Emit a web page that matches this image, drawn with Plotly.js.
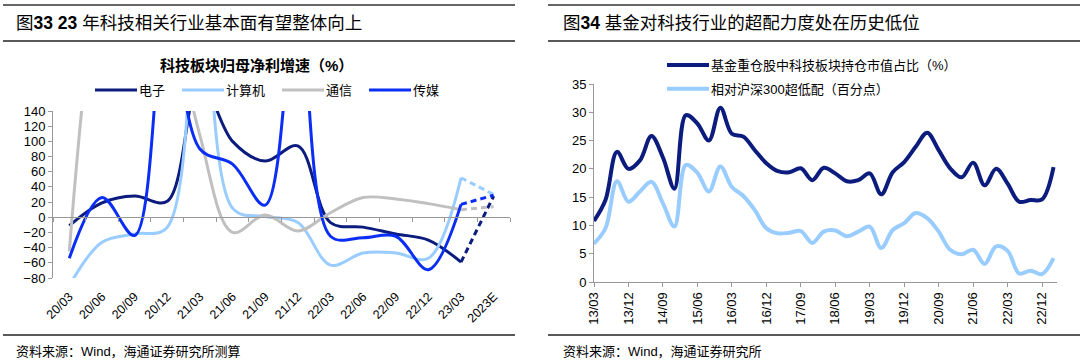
<!DOCTYPE html>
<html><head><meta charset="utf-8">
<script src="https://cdn.plot.ly/plotly-3.0.1.min.js"></script>
<style>html,body{margin:0;padding:0;background:#fff;}#chart{width:1080px;height:363px;}</style>
</head><body><div id="chart"></div>
<script>
// ---------- Left chart data (科技板块归母净利增速 %) ----------
const leftCats = ['20/03','20/06','20/09','20/12','21/03','21/06','21/09','21/12','22/03','22/06','22/09','22/12','23/03','2023E'];
const dianzi   = [-11, 19, 28, 21, 180, 100, 74, 94, -7, -13, -22, -30, -59, 28];
const jisuanji = [-90, -33, -22, -13, 600, 12, 1, -7, -63, -47, -47, -54, 52, 30];
const tongxin  = [-45, 350, 500, 300, 108, -20, 3, -18, 6, 26, 24, 18, 10, 14];
const chuanmei = [-54, 26, -24, 280, 90, 70, 16, 300, -25, -27, -25, -69, 17, 29];
const leftNames = ['电子','计算机','通信','传媒'];

// ---------- Right chart data ----------
const rightCats = ['13/03','13/06','13/09','13/12','14/03','14/06','14/09','14/12','15/03','15/06','15/09','15/12',
  '16/03','16/06','16/09','16/12','17/03','17/06','17/09','17/12','18/03','18/06','18/09','18/12',
  '19/03','19/06','19/09','19/12','20/03','20/06','20/09','20/12','21/03','21/06','21/09','21/12',
  '22/03','22/06','22/09','22/12','23/03'];
const rightTicks = ['13/03','13/12','14/09','15/06','16/03','16/12','17/09','18/06','19/03','19/12','20/09','21/06','22/03','22/12'];
const fundShare = [10.8,14.5,23.0,20.0,21.5,25.8,22.0,16.5,29.5,28.0,25.0,30.8,26.2,25.7,23.3,21.0,19.6,19.4,20.1,18.0,
  20.2,19.2,17.8,18.0,19.2,15.5,19.4,21.2,23.9,26.4,23.3,20.1,18.5,21.1,17.1,20.0,17.4,14.2,14.5,14.6,20.3];
const overWeight = [6.8,9.5,17.8,14.2,16.0,17.7,13.9,9.8,20.7,19.3,16.0,20.4,16.8,15.2,12.7,9.5,8.6,8.7,9.0,6.9,
  8.9,9.1,8.1,8.9,9.8,6.0,9.2,10.4,12.2,11.3,8.9,5.7,4.9,5.7,3.2,6.3,5.5,1.5,2.0,1.4,4.2];
const rightNames = ['基金重仓股中科技板块持仓市值占比（%）','相对沪深300超低配（百分点）'];

const W = 1080, H = 363;
const px = v => v / W;
const py = v => (H - v) / H;
const FONT = 'Liberation Sans, Arial, Noto Sans CJK SC, sans-serif';
const NAVY = '#0B1C7E', LIGHT = '#99CCFF', GRAY = '#C0C0C0', BLUE = '#0A2EF5';

const leftColors = [NAVY, LIGHT, GRAY, BLUE];
const leftSeries = [dianzi, jisuanji, tongxin, chuanmei];
const n = leftCats.length;
const traces = [];
leftSeries.forEach((s, k) => {
  traces.push({
    type: 'scatter', mode: 'lines', name: leftNames[k], legend: 'legend',
    x: leftCats.slice(0, n - 1), y: s.slice(0, n - 1), xaxis: 'x', yaxis: 'y',
    line: {color: leftColors[k], width: 3, shape: 'spline', smoothing: 1}, hoverinfo: 'skip'
  });
});
leftSeries.forEach((s, k) => {
  traces.push({
    type: 'scatter', mode: 'lines', name: leftNames[k], showlegend: false,
    x: leftCats.slice(n - 2), y: s.slice(n - 2), xaxis: 'x', yaxis: 'y',
    line: {color: leftColors[k], width: 3, dash: '6px,4px'}, hoverinfo: 'skip'
  });
});
// empty trace so the zero-line axis subplot exists
traces.push({type: 'scatter', mode: 'lines', x: [], y: [], xaxis: 'x2', yaxis: 'y', showlegend: false, hoverinfo: 'skip'});

[fundShare, overWeight].forEach((s, k) => {
  traces.push({
    type: 'scatter', mode: 'lines', name: rightNames[k], legend: 'legend2', legendgroup: 'g' + k,
    x: rightCats, y: s, xaxis: 'x3', yaxis: 'y3',
    line: {color: k === 0 ? NAVY : LIGHT, width: 4, shape: 'spline', smoothing: 1}, hoverinfo: 'skip'
  });
});

const zeroPos = py(278 - 80 * (167 / 220));

const layout = {
  width: W, height: H, autosize: false,
  margin: {l: 0, r: 0, t: 0, b: 0},
  paper_bgcolor: '#fff', plot_bgcolor: 'rgba(0,0,0,0)',
  font: {family: FONT, size: 13, color: '#000'},
  showlegend: true,
  xaxis: {
    domain: [px(53), px(510)], anchor: 'y', type: 'category', range: [-0.5, 13.5],
    showline: false, ticks: '', showgrid: false, zeroline: false,
    tickangle: -45, tickfont: {size: 12.5, family: FONT}, ticklabelstandoff: 8
  },
  xaxis2: {
    matches: 'x', overlaying: 'x', anchor: 'free', position: zeroPos, type: 'category',
    showline: true, linecolor: '#999', linewidth: 1, ticks: 'outside', tickson: 'boundaries',
    ticklen: 4, tickcolor: '#999', showticklabels: false, showgrid: false, zeroline: false
  },
  yaxis: {
    domain: [py(278), py(111)], anchor: 'x', range: [-80, 140], dtick: 20, tick0: 0,
    showline: true, linecolor: '#999', linewidth: 1, ticks: 'outside', ticklen: 4, tickcolor: '#999',
    showgrid: false, zeroline: false, tickfont: {size: 13, family: FONT}
  },
  xaxis3: {
    domain: [px(594), px(1057)], anchor: 'y3', type: 'category', range: [0, 40.3],
    tickmode: 'array', tickvals: rightTicks, ticktext: rightTicks, tickangle: -90,
    showline: true, linecolor: '#999', linewidth: 1, ticks: 'outside', ticklen: 4, tickcolor: '#999',
    showgrid: false, zeroline: false, tickfont: {size: 13, family: FONT}
  },
  yaxis3: {
    domain: [py(282), py(84)], anchor: 'x3', range: [0, 35], dtick: 5,
    showline: true, linecolor: '#999', linewidth: 1, ticks: 'outside', ticklen: 4, tickcolor: '#999',
    showgrid: false, zeroline: false, tickfont: {size: 13, family: FONT}
  },
  legend: {
    orientation: 'h', x: px(83), y: py(90), xanchor: 'left', yanchor: 'middle',
    font: {size: 13, family: FONT}, bgcolor: 'rgba(0,0,0,0)', itemwidth: 46, tracegroupgap: 0
  },
  legend2: {
    orientation: 'v', x: px(655), y: py(50), xanchor: 'left', yanchor: 'top',
    font: {size: 13, family: FONT}, bgcolor: 'rgba(0,0,0,0)', itemwidth: 46, tracegroupgap: 4, traceorder: 'grouped'
  },
  shapes: [
    {type: 'line', xref: 'paper', yref: 'paper', x0: px(3), x1: px(515), y0: py(5), y1: py(5), line: {color: '#666', width: 2}},
    {type: 'line', xref: 'paper', yref: 'paper', x0: px(3), x1: px(515), y0: py(41), y1: py(41), line: {color: '#222', width: 1.5}},
    {type: 'line', xref: 'paper', yref: 'paper', x0: px(3), x1: px(515), y0: py(335), y1: py(335), line: {color: '#222', width: 1.5}},
    {type: 'line', xref: 'paper', yref: 'paper', x0: px(548), x1: px(1080), y0: py(5), y1: py(5), line: {color: '#666', width: 2}},
    {type: 'line', xref: 'paper', yref: 'paper', x0: px(548), x1: px(1080), y0: py(41), y1: py(41), line: {color: '#222', width: 1.5}},
    {type: 'line', xref: 'paper', yref: 'paper', x0: px(548), x1: px(1080), y0: py(335), y1: py(335), line: {color: '#222', width: 1.5}}
  ],
  annotations: [
    {xref: 'paper', yref: 'paper', x: px(14), y: py(23), xanchor: 'left', yanchor: 'middle', showarrow: false,
     text: '图<b>33 23</b> 年科技相关行业基本面有望整体向上', font: {size: 17.5, family: FONT, color: '#000'}},
    {xref: 'paper', yref: 'paper', x: px(561), y: py(23), xanchor: 'left', yanchor: 'middle', showarrow: false,
     text: '图<b>34</b> 基金对科技行业的超配力度处在历史低位', font: {size: 17.5, family: FONT, color: '#000'}},
    {xref: 'paper', yref: 'paper', x: px(256), y: py(66), xanchor: 'center', yanchor: 'middle', showarrow: false,
     text: '<b>科技板块归母净利增速（%）</b>', font: {size: 15, family: FONT, color: '#000'}},
    {xref: 'paper', yref: 'paper', x: px(14), y: py(351), xanchor: 'left', yanchor: 'middle', showarrow: false,
     text: '资料来源：Wind，海通证券研究所测算', font: {size: 13, family: FONT, color: '#000'}},
    {xref: 'paper', yref: 'paper', x: px(561), y: py(351), xanchor: 'left', yanchor: 'middle', showarrow: false,
     text: '资料来源：Wind，海通证券研究所', font: {size: 13, family: FONT, color: '#000'}}
  ]
};

Plotly.newPlot('chart', traces, layout, {staticPlot: true, displayModeBar: false}).then(() => {
  // lengthen legend line samples to match the original style
  document.querySelectorAll('#chart .legendlines path').forEach(p => p.setAttribute('d', 'M12,0h42'));
});
</script>
</body></html>
